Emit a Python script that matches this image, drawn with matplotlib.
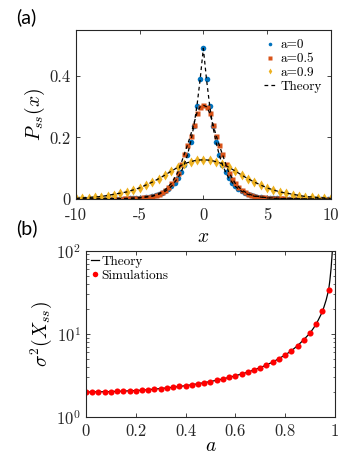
import numpy as np
import matplotlib
matplotlib.use("Agg")
import matplotlib.pyplot as plt
from matplotlib.ticker import LogLocator, NullFormatter

plt.rcParams['font.family'] = ['cmr10']
plt.rcParams['mathtext.fontset'] = 'cm'
plt.rcParams['axes.formatter.use_mathtext'] = True
plt.rcParams['axes.unicode_minus'] = True

# ---- panel (a) data ----
x_sim = np.linspace(-10, 10, 81)   # histogram grid, step 0.25
p_a0 = [0.0, 0.0, 0.0, 0.0, 0.0, 0.0, 0.0, 0.0, 0.0, 0.0, 0.0, 0.0,
        0.001, 0.001, 0.001, 0.001, 0.001, 0.002, 0.002, 0.003, 0.003, 0.004,
        0.006, 0.007, 0.009, 0.012, 0.015, 0.019, 0.025, 0.032, 0.041, 0.053,
        0.068, 0.087, 0.112, 0.143, 0.184, 0.236, 0.303, 0.389,
        0.490,
        0.389, 0.303, 0.236, 0.184, 0.143, 0.112, 0.087, 0.068, 0.053, 0.041,
        0.032, 0.025, 0.019, 0.015, 0.012, 0.009, 0.007, 0.006, 0.004, 0.003,
        0.003, 0.002, 0.002, 0.001, 0.001, 0.001, 0.001, 0.001,
        0.0, 0.0, 0.0, 0.0, 0.0, 0.0, 0.0, 0.0, 0.0, 0.0, 0.0, 0.0]
p_a05 = [0.0, 0.0, 0.0, 0.0, 0.0, 0.0, 0.0, 0.0, 0.0, 0.0,
         0.001, 0.001, 0.001, 0.001, 0.001, 0.002, 0.002, 0.002, 0.003, 0.003,
         0.004, 0.005, 0.006, 0.008, 0.010, 0.013, 0.017, 0.023, 0.030, 0.039,
         0.051, 0.066, 0.085, 0.113, 0.145, 0.175, 0.205, 0.242, 0.280, 0.300,
         0.305,
         0.300, 0.280, 0.242, 0.205, 0.175, 0.145, 0.113, 0.085, 0.066, 0.051,
         0.039, 0.030, 0.023, 0.017, 0.013, 0.010, 0.008, 0.006, 0.005, 0.004,
         0.003, 0.003, 0.002, 0.002, 0.002, 0.001, 0.001, 0.001, 0.001, 0.001,
         0.0, 0.0, 0.0, 0.0, 0.0, 0.0, 0.0, 0.0, 0.0, 0.0]
x_sim9 = np.linspace(-10, 10, 41)  # step 0.5
p_a09 = [0.002, 0.003, 0.004, 0.006, 0.008, 0.011, 0.014, 0.018, 0.023, 0.029,
         0.036, 0.045, 0.055, 0.066, 0.078, 0.091, 0.103, 0.114, 0.121, 0.126,
         0.127,
         0.126, 0.121, 0.114, 0.103, 0.091, 0.078, 0.066, 0.055, 0.045, 0.036,
         0.029, 0.023, 0.018, 0.014, 0.011, 0.008, 0.006, 0.004, 0.003, 0.002]

x_th = [-10, -8, -6, -5, -4, -3.5, -3, -2.5, -2, -1.75, -1.5, -1.25, -1, -0.75, -0.5, -0.25,
        0, 0.25, 0.5, 0.75, 1, 1.25, 1.5, 1.75, 2, 2.5, 3, 3.5, 4, 5, 6, 8, 10]
th_a0 = [0.0, 0.0002, 0.0012, 0.0034, 0.009, 0.015, 0.025, 0.041, 0.068, 0.087, 0.112,
         0.143, 0.184, 0.236, 0.303, 0.389,
         0.49,
         0.389, 0.303, 0.236, 0.184, 0.143, 0.112, 0.087, 0.068, 0.041, 0.025, 0.015,
         0.009, 0.0034, 0.0012, 0.0002, 0.0]
th_a05 = [0.0001, 0.0005, 0.002, 0.004, 0.010, 0.017, 0.030, 0.051, 0.087, 0.115, 0.145,
          0.175, 0.207, 0.244, 0.280, 0.300,
          0.305,
          0.300, 0.280, 0.244, 0.207, 0.175, 0.145, 0.115, 0.087, 0.051, 0.030, 0.017,
          0.010, 0.004, 0.002, 0.0005, 0.0001]
th_a09 = [0.002, 0.008, 0.023, 0.036, 0.055, 0.066, 0.078, 0.091, 0.103, 0.109, 0.114,
          0.118, 0.121, 0.124, 0.126, 0.127,
          0.127,
          0.127, 0.126, 0.124, 0.121, 0.118, 0.114, 0.109, 0.103, 0.091, 0.078, 0.066,
          0.055, 0.036, 0.023, 0.008, 0.002]
xticks_a = [-10, -5, 0, 5, 10]
xtick_labels_a = ['-10', '-5', '0', '5', '10']

# ---- panel (b) data ----
a_sim = np.linspace(0, 0.975, 40)  # step 0.025
var_sim = [2.00, 2.00, 2.01, 2.01, 2.02, 2.03, 2.05, 2.06, 2.08, 2.11,
           2.13, 2.16, 2.20, 2.24, 2.28, 2.33, 2.38, 2.44, 2.51, 2.58,
           2.67, 2.76, 2.87, 2.99, 3.13, 3.28, 3.46, 3.67, 3.92, 4.22,
           4.57, 5.01, 5.56, 6.25, 7.2, 8.5, 10.2, 13.1, 18.9, 33.7]
a_th = [0, 0.05, 0.1, 0.15, 0.2, 0.25, 0.3, 0.35, 0.4, 0.45, 0.5, 0.55, 0.6, 0.65,
        0.7, 0.75, 0.8, 0.825, 0.85, 0.875, 0.9, 0.915, 0.93, 0.945, 0.955, 0.965,
        0.975, 0.98, 0.985, 0.99, 0.995]
var_th = [2.0, 2.01, 2.02, 2.05, 2.08, 2.13, 2.2, 2.28, 2.38, 2.51, 2.67, 2.87, 3.13,
          3.46, 3.92, 4.57, 5.56, 6.25, 7.2, 8.5, 10.2, 11.8, 14.0, 17.2, 20.5, 25.5,
          33.7, 44, 62, 100, 180]

blue = '#0072BD'
orange = '#D95319'
yellow = '#EDB120'
axcol = '#262626'

fig = plt.figure(figsize=(3.53, 4.57), dpi=100)
ax1 = fig.add_axes([0.215, 0.5646, 0.722, 0.37])
ax2 = fig.add_axes([0.2436, 0.0875, 0.705, 0.364])

ax1.plot(x_sim, p_a0, 'o', color=blue, ms=4.0, mec='none', label='a=0')
ax1.plot(x_sim, p_a05, 's', color=orange, ms=3.6, mec='none', label='a=0.5')
ax1.plot(x_sim9, p_a09, 'd', color=yellow, ms=4.6, mec='none', label='a=0.9')
ax1.plot(x_th, th_a0, '--', color='k', lw=0.9, dashes=(3, 2.5), label='Theory')
ax1.plot(x_th, th_a05, '--', color='k', lw=0.9, dashes=(3, 2.5))
ax1.plot(x_th, th_a09, '--', color='k', lw=0.9, dashes=(3, 2.5))
ax1.set_xlim(-10, 10)
ax1.set_ylim(0, 0.55)
ax1.set_xticks(xticks_a)
ax1.set_xticklabels(xtick_labels_a)
ax1.set_yticks([0, 0.2, 0.4])
ax1.set_yticklabels(['0', '0.2', '0.4'])
ax1.set_xlabel('$x$', fontsize=14, labelpad=3.5)
ax1.set_ylabel('$P_{ss}(x)$', fontsize=14, labelpad=2)
ax1.legend(loc='upper right', fontsize=9.5, frameon=False, handlelength=0.9,
           handletextpad=0.3, labelspacing=0.12, borderaxespad=0.3, markerscale=0.65)

ax2.semilogy(a_th, var_th, '-', color='k', lw=0.9, label='Theory')
ax2.semilogy(a_sim, var_sim, 'o', color='#FF0000', ms=4.4, mec='none', label='Simulations')
ax2.set_xlim(0, 1)
ax2.set_ylim(1, 100)
ax2.set_xticks([0, 0.2, 0.4, 0.6, 0.8, 1])
ax2.set_xticklabels(['0', '0.2', '0.4', '0.6', '0.8', '1'])
ax2.yaxis.set_major_locator(LogLocator(base=10, numticks=5))
ax2.yaxis.set_minor_locator(LogLocator(base=10, subs=np.arange(2, 10), numticks=10))
ax2.yaxis.set_minor_formatter(NullFormatter())
ax2.set_xlabel('$a$', fontsize=14, labelpad=-1.5)
ax2.set_ylabel('$\\sigma^2(X_{ss})$', fontsize=14, labelpad=2)
ax2.legend(loc='upper left', fontsize=9.5, frameon=False, handlelength=0.6,
           handletextpad=0.2, labelspacing=0.15, borderaxespad=0.15, borderpad=0.2,
           markerscale=0.9)

for ax in (ax1, ax2):
    for s in ax.spines.values():
        s.set_color(axcol)
        s.set_linewidth(0.8)
    ax.tick_params(which='both', direction='in', top=True, right=True,
                   colors=axcol, labelcolor='#262626', labelsize=12)
    ax.tick_params(which='major', length=3, width=0.6)
    ax.tick_params(which='minor', length=1.8, width=0.5)
ax1.tick_params(axis='x', pad=6.5)
ax2.tick_params(axis='x', pad=5)

fig.text(0.045, 0.962, '(a)', fontsize=14, family='Lato', va='center')
fig.text(0.045, 0.50, '(b)', fontsize=14, family='Lato', va='center')

fig.savefig('out.png', dpi=100)
